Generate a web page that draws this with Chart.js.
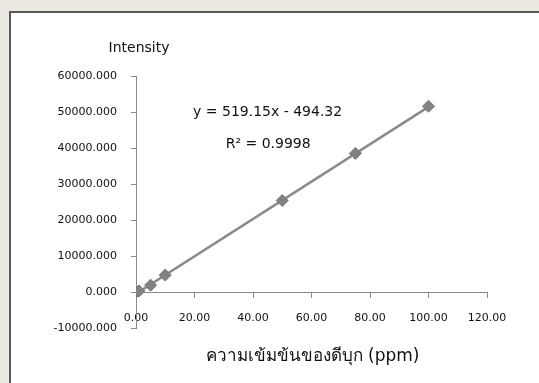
<!DOCTYPE html>
<html>
<head>
<meta charset="utf-8">
<script src="https://cdn.jsdelivr.net/npm/chart.js@4.4.0/dist/chart.umd.min.js"></script>
<style>
  html, body { margin:0; padding:0; width:539px; height:383px; overflow:hidden; background:#ece9e3; }
  #frame { position:absolute; left:9px; top:11px; width:540px; height:380px; background:#ffffff; border-left:2px solid #5a5a5a; border-top:2px solid #5a5a5a; }
  #wrap { position:absolute; left:0; top:0; width:539px; height:383px; }
</style>
</head>
<body>
<div id="frame"></div>
<div id="wrap"><canvas id="c" width="539" height="383"></canvas></div>
<script>
// Data
const concentrations = [0, 1, 5, 10, 50, 75, 100];
const intensities = [0, 300, 1900, 4700, 25400, 38500, 51600];
// Trendline endpoints (from displayed equation y = 519.15x - 494.32)
const trendX = [0, 100];
const trendY = [-494.32, 51420.68];
const xTicks = [0, 20, 40, 60, 80, 100, 120];
const yTicks = [-10000, 0, 10000, 20000, 30000, 40000, 50000, 60000];
const equationText = "y = 519.15x - 494.32";
const r2Text = "R² = 0.9998";
const yTitle = "Intensity";
const xTitle = "ความเข้มข้นของดีบุก (ppm)";

const FONT = "'DejaVu Sans', 'Noto Sans', sans-serif";

const textPlugin = {
  id: 'texts',
  afterDraw(chart) {
    const ctx = chart.ctx;
    const xs = chart.scales.x, ys = chart.scales.y;
    ctx.save();
    ctx.fillStyle = '#111111';
    ctx.textAlign = 'center';
    ctx.textBaseline = 'middle';
    ctx.font = "14px " + FONT;
    ctx.fillText(yTitle, 139, 48);
    ctx.font = "14px " + FONT;
    ctx.fillText(equationText, xs.getPixelForValue(45), ys.getPixelForValue(50000) + 0);
    ctx.fillText(r2Text, xs.getPixelForValue(45.2), ys.getPixelForValue(41000));
    ctx.font = "17px " + FONT;
    ctx.fillText(xTitle, (xs.left + xs.right) / 2 + 1, 357);
    ctx.restore();
  }
};

new Chart(document.getElementById('c'), {
  type: 'scatter',
  data: {
    datasets: [
      {
        type: 'line',
        data: trendX.map((x, i) => ({x, y: trendY[i]})),
        borderColor: '#8a8a8a',
        borderWidth: 2.5,
        pointRadius: 0,
        fill: false,
        order: 1
      },
      {
        data: concentrations.map((x, i) => ({x, y: intensities[i]})),
        pointStyle: 'rectRot',
        pointRadius: 6,
        backgroundColor: '#828282',
        borderColor: '#777777',
        borderWidth: 1,
        order: 0
      }
    ]
  },
  options: {
    responsive: false,
    animation: false,
    layout: { padding: { left: 0, top: 76, right: 52, bottom: 55 } },
    plugins: { legend: { display: false }, tooltip: { enabled: false } },
    scales: {
      x: {
        type: 'linear',
        position: { y: 0 },
        min: 0, max: 120,
        afterBuildTicks(scale) { scale.ticks = xTicks.map(v => ({value: v})); },
        ticks: {
          padding: 15,
          color: '#111111',
          font: { family: FONT, size: 11 },
          maxRotation: 0,
          callback: v => Number(v).toFixed(2)
        },
        grid: { drawOnChartArea: false, tickLength: 5, color: '#8a8a8a' },
        border: { color: '#8a8a8a', width: 1 }
      },
      y: {
        type: 'linear',
        position: 'left',
        min: -10000, max: 60000,
        afterBuildTicks(scale) { scale.ticks = yTicks.map(v => ({value: v})); },
        afterFit(scale) { scale.width = 136; },
        ticks: {
          padding: 14,
          color: '#111111',
          font: { family: FONT, size: 11 },
          callback: v => Number(v).toFixed(3)
        },
        grid: { drawOnChartArea: false, tickLength: 5, color: '#8a8a8a' },
        border: { color: '#8a8a8a', width: 1 }
      }
    }
  },
  plugins: [textPlugin]
});
</script>
</body>
</html>
